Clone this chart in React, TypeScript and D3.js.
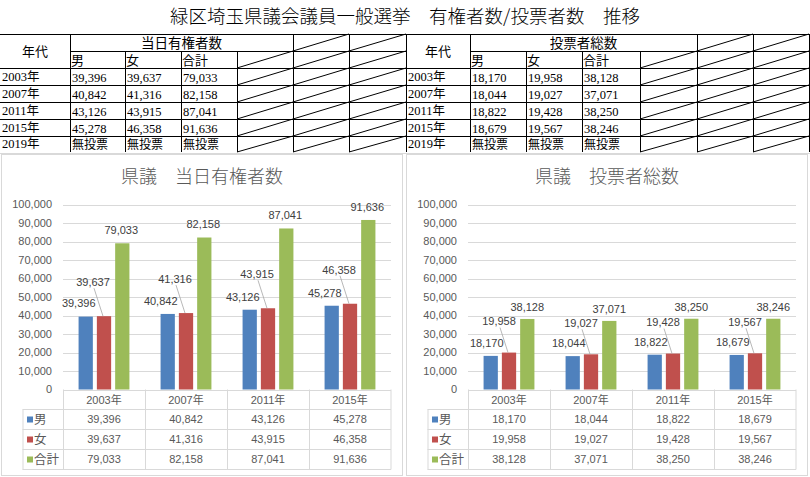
import React from 'react';
import * as d3 from 'd3';

// ---- data ----
const years = ['2003年', '2007年', '2011年', '2015年'];
const tableYears = ['2003年', '2007年', '2011年', '2015年', '2019年'];
const seriesNames = ['男', '女', '合計'];
const seriesColors = ['#4f81bd', '#c0504d', '#9bbb59'];

const eligibleMale = [39396, 40842, 43126, 45278];
const eligibleFemale = [39637, 41316, 43915, 46358];
const eligibleTotal = [79033, 82158, 87041, 91636];

const voterMale = [18170, 18044, 18822, 18679];
const voterFemale = [19958, 19027, 19428, 19567];
const voterTotal = [38128, 37071, 38250, 38246];

const noVote = '無投票';
const yTicks = [0, 10000, 20000, 30000, 40000, 50000, 60000, 70000, 80000, 90000, 100000];

const fmt = d3.format(',');
const GOTHIC = "'Noto Sans CJK JP', sans-serif";
const SERIF = "'Liberation Serif', 'Noto Sans CJK JP', serif";
const CHART_FONT = "'Liberation Sans', 'Noto Sans CJK JP', sans-serif";
const GREY = '#595959';
const LINE = '#d9d9d9';

// spreadsheet grid
const rowEdges = [34, 51, 68, 85, 102, 119, 136, 152];

function SheetTable({ cols, header, values }: { cols: number[]; header: string; values: number[][] }) {
    const lines: JSX.Element[] = [];
    const top = rowEdges[0];
    const bottom = rowEdges[rowEdges.length - 1];
    // horizontal lines
    lines.push(<line key="h0" x1={cols[0]} x2={cols[7]} y1={top + 0.5} y2={top + 0.5} />);
    lines.push(<line key="h1" x1={cols[1]} x2={cols[7]} y1={rowEdges[1] + 0.5} y2={rowEdges[1] + 0.5} />);
    for (let r = 2; r < rowEdges.length - 1; r++) {
        lines.push(<line key={'h' + r} x1={cols[0]} x2={cols[7]} y1={rowEdges[r] + 0.5} y2={rowEdges[r] + 0.5} />);
    }
    // vertical lines
    cols.forEach((cx, i) => {
        if (i === 0) return;
        const merged = i === 2 || i === 3 || i === 4;
        lines.push(<line key={'v' + i} x1={cx + 0.5} x2={cx + 0.5} y1={merged ? rowEdges[1] : top} y2={bottom} />);
    });
    // diagonal strikes in unused cells
    const diag: JSX.Element[] = [];
    for (let r = 0; r < rowEdges.length - 1; r++) {
        const startCol = r === 0 ? 5 : 4;
        for (let c = startCol; c < 7; c++) {
            diag.push(<line key={`d${r}-${c}`} x1={cols[c]} y1={rowEdges[r + 1]} x2={cols[c + 1]} y2={rowEdges[r]} />);
        }
    }
    return (
        <g>
            <g stroke="#000" strokeWidth={1}>{lines}{diag}</g>
            <g fill="#000">
                <text x={(cols[0] + cols[1]) / 2} y={56} textAnchor="middle" fontFamily={GOTHIC} fontSize={13}>年代</text>
                <text x={(cols[1] + cols[5]) / 2} y={47.5} textAnchor="middle" fontFamily={GOTHIC} fontSize={13.5}>{header}</text>
                {seriesNames.map((s, i) => (
                    <text key={s} x={cols[i + 1] + 1} y={65} fontFamily={GOTHIC} fontSize={13}>{s}</text>
                ))}
                {tableYears.map((yr, r) => (
                    <g key={yr}>
                        <text x={cols[0] + 2} y={rowEdges[r + 3] - 4} fontFamily={SERIF} fontSize={12.5}>{yr}</text>
                        {values.map((arr, c) => (
                            <text key={c} x={cols[c + 1] + 2} y={rowEdges[r + 3] - 3.5}
                                fontFamily={r < arr.length ? SERIF : GOTHIC} fontSize={r < arr.length ? 12.5 : 12}>
                                {r < arr.length ? fmt(arr[r]) : noVote}
                            </text>
                        ))}
                    </g>
                ))}
            </g>
        </g>
    );
}

type Off = { dx: number; dy: number };

function BarPanel({ ox, title, data, offs }: { ox: number; title: string; data: number[][]; offs: Off[] }) {
    const x = d3.scaleBand<string>().domain(years).range([ox + 63, ox + 391]);
    const bw = x.bandwidth();
    const xs = d3.scaleBand<string>().domain(seriesNames).range([bw * 0.19, bw * 0.81]).paddingInner(0.22);
    const y = d3.scaleLinear().domain([0, 100000]).range([389.5, 204.5]);
    const tableRows = [409.5, 429.5, 449.5, 469.5];
    const left = ox + 22.5;
    const right = ox + 391;

    return (
        <g>
            <rect x={ox + 1.5} y={154.5} width={401} height={321} fill="#fff" stroke={LINE} />
            <text x={ox + 202} y={177} dy="0.35em" textAnchor="middle" fontFamily={GOTHIC} fontWeight={300} fontSize={18} fill={GREY}>{title}</text>
            {/* gridlines + y labels */}
            {yTicks.map(t => (
                <g key={t}>
                    <line x1={ox + 63} x2={right} y1={Math.round(y(t)) + 0.5} y2={Math.round(y(t)) + 0.5} stroke={LINE} />
                    <text x={ox + 52} y={y(t)} dy="0.35em" textAnchor="end" fontFamily={CHART_FONT} fontSize={11} fill={GREY}>{fmt(t)}</text>
                </g>
            ))}
            {/* bars */}
            {data.map((arr, si) => arr.map((v, i) => (
                <rect key={`${si}-${i}`} x={x(years[i])! + xs(seriesNames[si])!} y={y(v)} width={xs.bandwidth()} height={y(0) - y(v)} fill={seriesColors[si]} />
            )))}
            {/* data labels */}
            {data.map((arr, si) => arr.map((v, i) => {
                const cx = x(years[i])! + xs(seriesNames[si])! + xs.bandwidth() / 2;
                const lx = cx + offs[si].dx;
                const ly = y(v) + offs[si].dy;
                return (
                    <g key={`l${si}-${i}`}>
                        {si === 1 && <line x1={lx + 1} y1={ly + 6} x2={cx - 1} y2={y(v)} stroke="#a6a6a6" strokeWidth={0.8} />}
                        <text x={lx} y={ly} dy="0.35em" textAnchor="middle" fontFamily={CHART_FONT} fontSize={11} fill="#404040">{fmt(v)}</text>
                    </g>
                );
            }))}
            {/* data table */}
            <g stroke={LINE}>
                {tableRows.map(ty => <line key={ty} x1={left} x2={right} y1={ty} y2={ty} />)}
                <line x1={left + 0.5} x2={left + 0.5} y1={tableRows[0]} y2={tableRows[3]} />
                {years.map(yr => <line key={yr} x1={Math.round(x(yr)!) + 0.5} x2={Math.round(x(yr)!) + 0.5} y1={389.5} y2={tableRows[3]} />)}
                <line x1={right} x2={right} y1={389.5} y2={tableRows[3]} />
            </g>
            {years.map(yr => (
                <text key={yr} x={x(yr)! + bw / 2} y={400} dy="0.35em" textAnchor="middle" fontFamily={CHART_FONT} fontSize={11} fill={GREY}>{yr}</text>
            ))}
            {data.map((arr, si) => (
                <g key={'row' + si}>
                    <rect x={ox + 27} y={tableRows[si] + 7} width={6} height={6} fill={seriesColors[si]} />
                    <text x={ox + 34} y={tableRows[si] + 10} dy="0.35em" fontFamily={GOTHIC} fontSize={12.5} fill={GREY}>{seriesNames[si]}</text>
                    {arr.map((v, i) => (
                        <text key={i} x={x(years[i])! + bw / 2} y={tableRows[si] + 10} dy="0.35em" textAnchor="middle" fontFamily={CHART_FONT} fontSize={11} fill={GREY}>{fmt(v)}</text>
                    ))}
                </g>
            ))}
        </g>
    );
}

export default function App() {
    const leftCols = [0, 70, 125, 181, 237, 293, 349, 406];
    const rightCols = [406, 470, 526, 582, 640, 697, 753, 809];
    return (
        <div style={{ position: 'absolute', left: 0, top: 0 }}>
            <svg width={810} height={477} viewBox="0 0 810 477" style={{ display: 'block', background: '#fff' }}>
                <rect x={0} y={0} width={810} height={477} fill="#fff" />
                <text x={405} y={17} dy="0.35em" textAnchor="middle" fontFamily={GOTHIC} fontWeight={300} fontSize={18.5} fill="#000">
                    緑区埼玉県議会議員一般選挙　有権者数/投票者数　推移
                </text>
                <SheetTable cols={leftCols} header="当日有権者数" values={[eligibleMale, eligibleFemale, eligibleTotal]} />
                <SheetTable cols={rightCols} header="投票者総数" values={[voterMale, voterFemale, voterTotal]} />
                <line x1={0} x2={810} y1={153.5} y2={153.5} stroke={LINE} />
                <BarPanel ox={0} title="県議　当日有権者数" data={[eligibleMale, eligibleFemale, eligibleTotal]}
                    offs={[{ dx: -7, dy: -13 }, { dx: -11, dy: -34 }, { dx: -1, dy: -13 }]} />
                <BarPanel ox={405} title="県議　投票者総数" data={[voterMale, voterFemale, voterTotal]}
                    offs={[{ dx: -4, dy: -12.5 }, { dx: -10, dy: -31 }, { dx: 0, dy: -12 }]} />
            </svg>
        </div>
    );
}
